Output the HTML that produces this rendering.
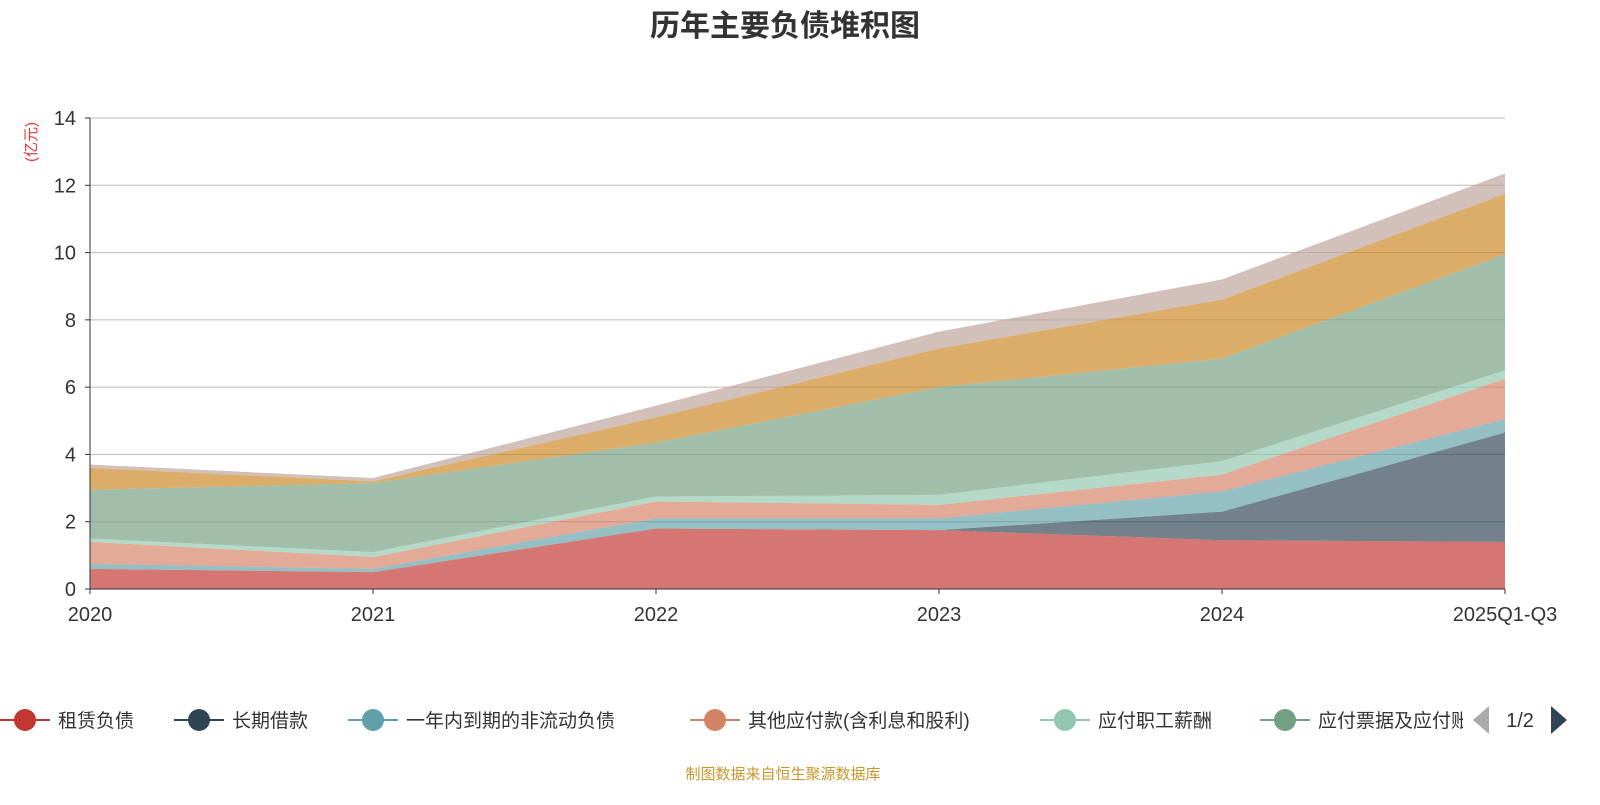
<!DOCTYPE html>
<html><head><meta charset="utf-8"><style>
body{margin:0;background:#fff;font-family:"Liberation Sans","Noto Sans CJK SC",sans-serif;}
</style></head><body>
<svg id="c" width="1600" height="800" xmlns="http://www.w3.org/2000/svg">
<defs><clipPath id="legclip"><rect x="0" y="690" width="1463" height="60"/></clipPath></defs>
<text x="785" y="36" text-anchor="middle" font-size="30" font-weight="bold" fill="#333" font-family="Liberation Sans, Noto Sans CJK SC, sans-serif">历年主要负债堆积图</text>
<text transform="translate(36,142) rotate(-90)" text-anchor="middle" font-size="15" fill="#e33" font-family="Liberation Sans, Noto Sans CJK SC, sans-serif">(亿元)</text>
<g id="grid"></g><g id="areas"></g><g id="axes"></g><g id="legend" clip-path="url(#legclip)"></g><g id="pager"></g>
<text x="783" y="779" text-anchor="middle" font-size="15" fill="#c8962a" font-family="Liberation Sans, Noto Sans CJK SC, sans-serif">制图数据来自恒生聚源数据库</text>
</svg>
<script>
const categories=["2020","2021","2022","2023","2024","2025Q1-Q3"];
const seriesNames=["租赁负债","长期借款","一年内到期的非流动负债","其他应付款(含利息和股利)","应付职工薪酬","应付票据及应付账款","合同负债","其他"];
const s0=[0.6,0.5,1.8,1.75,1.45,1.4];
const s1=[0,0,0,0,0.85,3.25];
const s2=[0.15,0.1,0.3,0.35,0.6,0.4];
const s3=[0.65,0.35,0.5,0.4,0.5,1.2];
const s4=[0.1,0.15,0.15,0.3,0.4,0.25];
const s5=[1.45,2.05,1.6,3.2,3.05,3.45];
const s6=[0.65,0.05,0.75,1.15,1.75,1.8];
const s7=[0.1,0.1,0.35,0.5,0.6,0.6];
const series=[s0,s1,s2,s3,s4,s5,s6,s7];
const colors=["#c23531","#2f4554","#61a0a8","#d48265","#91c7ae","#749f83","#ca8622","#bda29a"];
const yTicks=[0,2,4,6,8,10,12,14];
const NS="http://www.w3.org/2000/svg";
const x0=90,x1=1505,y0=589,y1=118,yMax=14;
const xs=i=>x0+i*(x1-x0)/(categories.length-1);
const ys=v=>y0-v*(y0-y1)/yMax;
function mk(t,a,p){const e=document.createElementNS(NS,t);for(const k in a)e.setAttribute(k,a[k]);p.appendChild(e);return e;}
const grid=document.getElementById('grid'),areas=document.getElementById('areas'),axes=document.getElementById('axes'),leg=document.getElementById('legend'),pager=document.getElementById('pager');
yTicks.forEach(v=>{
 if(v>0){const l=mk('line',{x1:x0,x2:x1,y1:ys(v),y2:ys(v),stroke:'#bbb','stroke-width':1},grid);
 
 }
 const t=mk('text',{x:x0-14,y:ys(v)+7,'text-anchor':'end','font-size':20,fill:'#333'},axes);t.textContent=v;
 
 
 mk('line',{x1:x0-5,x2:x0,y1:ys(v),y2:ys(v),stroke:'#333'},axes);
});
let base=categories.map(()=>0);
series.forEach((s,k)=>{
 const top=s.map((v,i)=>base[i]+v);
 let d='M'+top.map((v,i)=>xs(i)+','+ys(v)).join(' L');
 for(let i=categories.length-1;i>=0;i--)d+=' L'+xs(i)+','+ys(base[i]);
 const p=mk('path',{d:d+'Z',fill:colors[k],'fill-opacity':0.68},areas);
 
 
 base=top;
});
mk('line',{x1:x0,x2:x0,y1:y1,y2:y0,stroke:'#333'},axes);
mk('line',{x1:x0,x2:x1,y1:y0,y2:y0,stroke:'#333'},axes);
categories.forEach((c,i)=>{
 mk('line',{x1:xs(i),x2:xs(i),y1:y0,y2:y0+5,stroke:'#333'},axes);
 const t=mk('text',{x:xs(i),y:621,'text-anchor':'middle','font-size':20,fill:'#333'},axes);t.textContent=c;
 
 
});
const legItems=[["租赁负债",0,0],["长期借款",1,174],["一年内到期的非流动负债",2,348],["其他应付款(含利息和股利)",3,690],["应付职工薪酬",4,1040],["应付票据及应付账款",5,1260]];
legItems.forEach(([n,k,x])=>{
 const g=mk('g',{},leg);
 
 
 mk('line',{x1:x,x2:x+50,y1:720,y2:720,stroke:colors[k],'stroke-width':2},g);
 mk('circle',{cx:x+25,cy:720,r:11,fill:colors[k]},g);
 const t=mk('text',{x:x+58,y:727,'font-size':19,fill:'#333'},g);t.textContent=n;
});
const pv=mk('polygon',{points:'1489,706 1473,720 1489,734',fill:'#aaa'},pager);


const pg=mk('text',{x:1520,y:727,'text-anchor':'middle','font-size':20,fill:'#333'},pager);pg.textContent='1/2';


const nx=mk('polygon',{points:'1551,706 1567,720 1551,734',fill:'#2f4554'},pager);


</script>
</body></html>
